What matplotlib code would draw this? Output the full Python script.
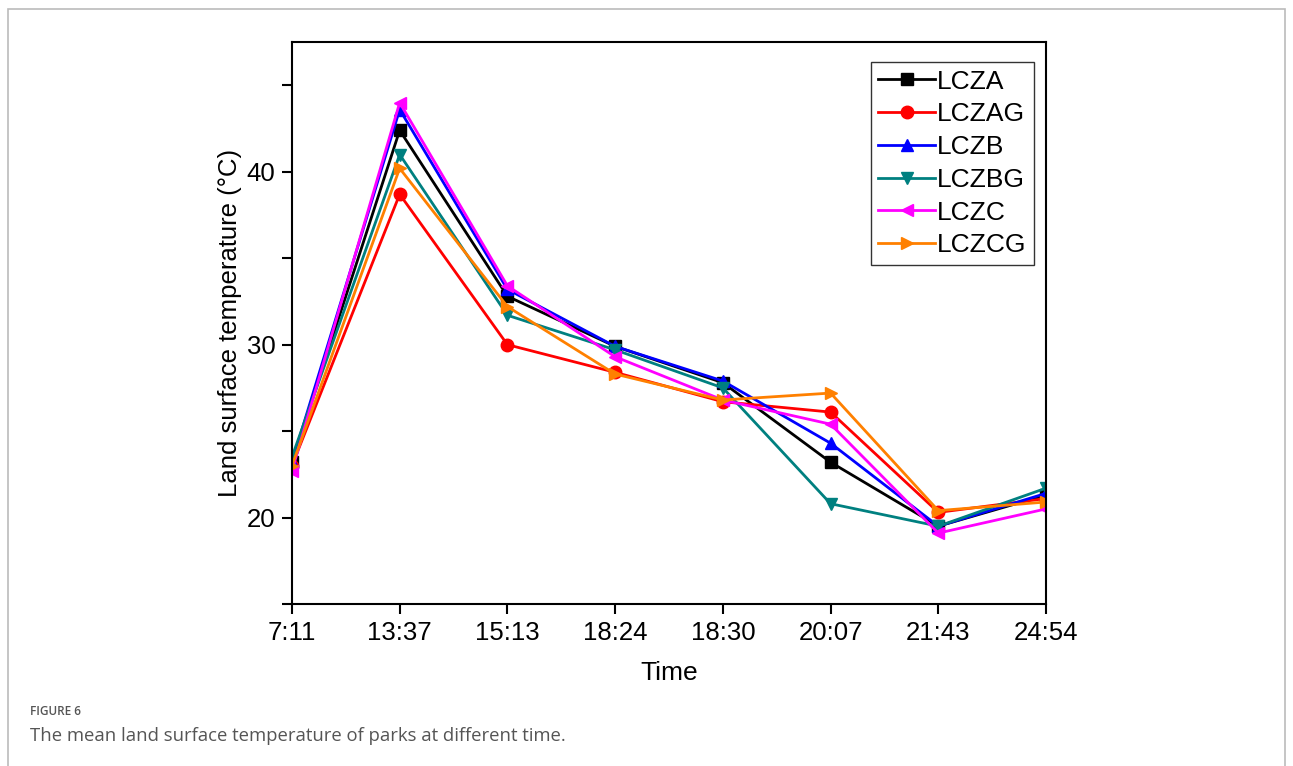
"""
Mean land surface temperature of parks at different times (Figure 6).
Saves out.png.
"""

import matplotlib.pyplot as plt
from matplotlib.patches import Rectangle
from matplotlib.ticker import MultipleLocator

plt.rcParams["font.family"] = ["Liberation Sans", "DejaVu Sans"]

# ---------------------------------------------------------------------------
# Data
# ---------------------------------------------------------------------------

times = ["7:11", "13:37", "15:13", "18:24", "18:30", "20:07", "21:43", "24:54"]

lcza = [23.2, 42.4, 32.8, 29.9, 27.8, 23.2, 19.5, 21.3]
lczag = [23.0, 38.7, 30.0, 28.4, 26.7, 26.1, 20.3, 21.1]
lczb = [23.2, 43.6, 33.2, 29.9, 27.9, 24.3, 19.5, 21.4]
lczbg = [23.5, 41.0, 31.7, 29.7, 27.5, 20.8, 19.5, 21.7]
lczc = [22.7, 44.0, 33.4, 29.3, 26.8, 25.4, 19.1, 20.5]
lczcg = [23.0, 40.2, 32.2, 28.3, 26.8, 27.2, 20.4, 20.9]

series = [
    ("LCZA", lcza, "#000000", "s"),
    ("LCZAG", lczag, "#FF0000", "o"),
    ("LCZB", lczb, "#0000FF", "^"),
    ("LCZBG", lczbg, "#008080", "v"),
    ("LCZC", lczc, "#FF00FF", "<"),
    ("LCZCG", lczcg, "#FF8000", ">"),
]

# ---------------------------------------------------------------------------
# Plot
# ---------------------------------------------------------------------------

fig = plt.figure(figsize=(12.93, 7.66), dpi=100)
ax = fig.add_axes([0.2258, 0.2115, 0.5832, 0.7335])

x = list(range(len(times)))
for name, vals, color, marker in series:
    ax.plot(x, vals, color=color, marker=marker, markersize=9, linewidth=2,
            label=name)

ax.set_xlim(0, len(times) - 1)
ax.set_ylim(15, 47.5)
ax.set_xticks(x)
ax.set_xticklabels(times)
ax.yaxis.set_major_locator(MultipleLocator(10))
ax.yaxis.set_minor_locator(MultipleLocator(5))
ax.tick_params(axis="both", which="both", direction="out", width=1.5,
               labelsize=18.5, colors="#000000", pad=5)
ax.tick_params(axis="both", which="major", length=7)
ax.tick_params(axis="y", which="minor", length=7)
for spine in ax.spines.values():
    spine.set_linewidth(1.5)

ax.set_xlabel("Time", fontsize=19, labelpad=12)
ax.set_ylabel("Land surface temperature (\u00b0C)", fontsize=18.5, labelpad=3)

leg = ax.legend(loc="upper right", fontsize=19, handlelength=2.15,
                handletextpad=0.05, borderpad=0.3, labelspacing=0.33,
                borderaxespad=0, fancybox=False, edgecolor="#000000",
                bbox_to_anchor=(0.984, 0.965))
leg.get_frame().set_linewidth(1.0)

# Figure frame and caption
fig.patches.append(Rectangle((0.006, -0.01), 0.988, 0.998, transform=fig.transFigure,
                             fill=False, edgecolor="#BBBBBB", linewidth=1.2))
fig.text(0.023, 0.066, "FIGURE 6", fontsize=8.5, color="#555555",
         family=["Open Sans", "DejaVu Sans"], fontweight="semibold")
fig.text(0.023, 0.032, "The mean land surface temperature of parks at different time.",
         fontsize=13.3, color="#555555", family=["Open Sans", "DejaVu Sans"])

fig.savefig("out.png", dpi=100)
